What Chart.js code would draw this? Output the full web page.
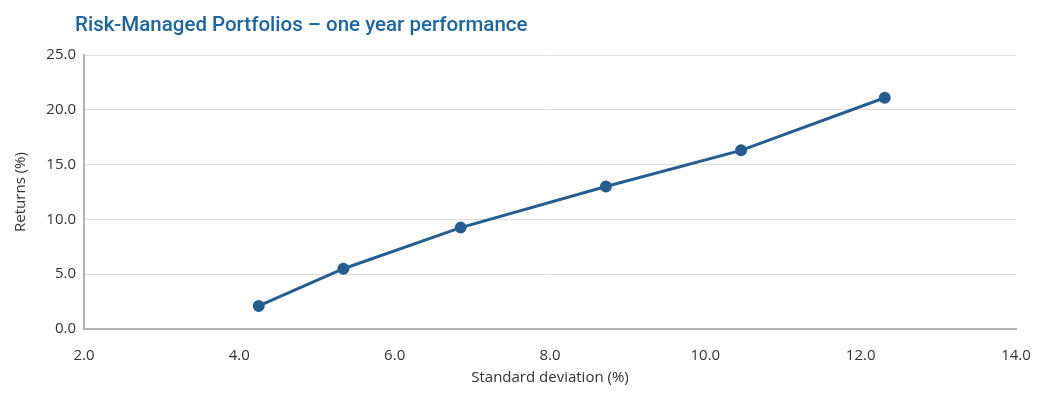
<!DOCTYPE html>
<html>
<head>
<meta charset="utf-8">
<script src="https://cdn.jsdelivr.net/npm/chart.js@4"></script>
<style>
  body { margin: 0; background: #fff; }
  #wrap { position: relative; width: 1042px; height: 397px; }
  #title {
    position: absolute; left: 75px; top: 12px;
    font-family: Roboto, sans-serif; font-weight: 500; font-size: 20.5px;
    color: #1b64a6; white-space: nowrap;
  }
</style>
</head>
<body>
<div id="wrap">
  <div id="title">Risk-Managed Portfolios – one year performance</div>
  <canvas id="riskChart" width="1042" height="397"></canvas>
</div>
<script>
// standard deviation (%) and returns (%) per portfolio
const stdDev = [4.25, 5.34, 6.85, 8.72, 10.46, 12.31];
const returns = [2.1, 5.5, 9.25, 13.0, 16.3, 21.1];

const xTicks = [2, 4, 6, 8, 10, 12, 14];
const yTicks = [0, 5, 10, 15, 20, 25];

const points = stdDev.map((v, i) => ({ x: v, y: returns[i] }));

const axisGrey = '#b3b3b3';
const textColor = '#333333';
const font = { family: "'Open Sans', sans-serif", size: 15 };

const ctx = document.getElementById('riskChart').getContext('2d');
const riskChart = new Chart(ctx, {
    type: 'scatter',
    data: {
        datasets: [{
            data: points,
            showLine: true,
            borderColor: '#265d91',
            backgroundColor: '#265d91',
            borderWidth: 3,
            pointRadius: 4.5,
            pointHoverRadius: 4.5
        }]
    },
    options: {
        responsive: false,
        animation: false,
        layout: { padding: { left: 8, right: 26, top: 55, bottom: 6 } },
        plugins: {
            legend: { display: false },
            tooltip: { enabled: false }
        },
        scales: {
            x: {
                type: 'linear',
                min: xTicks[0],
                max: xTicks[xTicks.length - 1],
                afterBuildTicks: axis => { axis.ticks = xTicks.map(v => ({ value: v })); },
                afterFit: axis => { axis.height = 62; },
                grid: { display: false },
                border: { color: axisGrey, width: 2 },
                ticks: {
                    color: textColor, font: font, padding: 10,
                    callback: v => v.toFixed(1)
                },
                title: {
                    display: true, text: 'Standard deviation (%)',
                    color: textColor, font: font, padding: { top: 4 }
                }
            },
            y: {
                min: yTicks[0],
                max: yTicks[yTicks.length - 1],
                afterBuildTicks: axis => { axis.ticks = yTicks.map(v => ({ value: v })); },
                afterFit: axis => { axis.width = 76; },
                grid: { color: '#dedede', lineWidth: 1, drawTicks: false },
                border: { color: axisGrey, width: 2 },
                ticks: {
                    color: textColor, font: font, padding: 8,
                    callback: v => v.toFixed(1)
                },
                title: {
                    display: true, text: 'Returns (%)',
                    color: textColor, font: font, padding: { bottom: 4 }
                }
            }
        }
    }
});
</script>
</body>
</html>
